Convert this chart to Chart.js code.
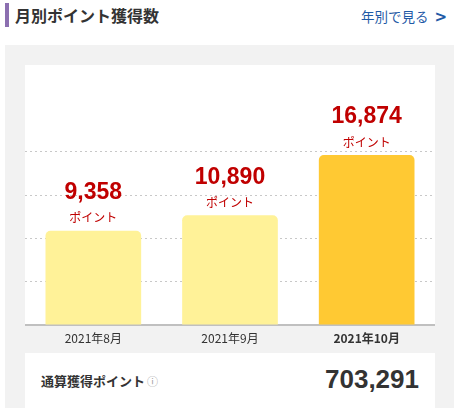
<!DOCTYPE html>
<html><head><meta charset="utf-8">
<script src="https://cdn.jsdelivr.net/npm/chart.js@4"></script>
<style>
body{margin:0;width:459px;height:408px;background:#fff;font-family:"Noto Sans CJK JP","Noto Sans",sans-serif;position:relative;overflow:hidden}
.bar{position:absolute;left:5px;top:3px;width:4px;height:24px;background:#8c6fb0}
.title{position:absolute;left:15px;top:3px;font-size:16px;font-weight:bold;color:#333;line-height:24px}
.link{position:absolute;right:12px;top:6px;font-size:13.5px;color:#1f5aa6;line-height:20px}
.link b{font-size:15px;margin-left:6px;font-family:"DejaVu Sans",sans-serif}
.panel{position:absolute;left:5px;top:45px;width:449px;height:363px;background:#f2f2f2}
.white{position:absolute;left:25px;top:65px;width:410px;height:260px;background:#fff}
.card{position:absolute;left:25px;top:353px;width:410px;height:55px;background:#fff}
.card .l{position:absolute;left:16px;top:18px;font-size:13px;font-weight:bold;color:#333}
.card .l span{font-weight:normal;color:#999;font-size:11px;margin-left:2px}
.card .r{position:absolute;right:16px;top:11px;font-size:26px;font-weight:bold;color:#333;font-family:"Liberation Sans",Arial,sans-serif}
#wrap{position:absolute;left:25px;top:65px;width:410px;height:288px}
</style></head><body>
<div class="bar"></div><div class="title">月別ポイント獲得数</div>
<div class="link">年別で見る<b>&gt;</b></div>
<div class="panel"></div><div class="white"></div>
<div class="card"><div class="l">通算獲得ポイント<span>ⓘ</span></div><div class="r">703,291</div></div>
<div id="wrap"><canvas id="c"></canvas></div>
<script>
const categories=["2021年8月","2021年9月","2021年10月"];
const points=[9358,10890,16874];
const barColors=["#fff298","#fff298","#ffc933"];
const unitLabel="ポイント";
const maxV=Math.max(...points);
const labelsPlugin={id:'lbl',afterDatasetsDraw(chart){
 const ctx=chart.ctx;const meta=chart.getDatasetMeta(0);
 meta.data.forEach((b,i)=>{
  ctx.save();ctx.textAlign='center';ctx.fillStyle='#c00000';
  ctx.font='bold 23px "Liberation Sans",Arial,sans-serif';ctx.textBaseline='middle';
  ctx.fillText(points[i].toLocaleString('en-US'),b.x,b.y-38);
  ctx.font='12px "Noto Sans CJK JP",sans-serif';
  ctx.fillText(unitLabel,b.x,b.y-13);ctx.restore();});
}};
new Chart(document.getElementById('c'),{type:'bar',
 data:{labels:categories,datasets:[{data:points,backgroundColor:barColors,borderRadius:{topLeft:5,topRight:5},borderSkipped:'bottom',barPercentage:0.7,categoryPercentage:1}]},
 options:{responsive:true,maintainAspectRatio:false,animation:false,
  plugins:{legend:{display:false},tooltip:{enabled:false}},
  layout:{padding:0},
  scales:{
   x:{grid:{display:false,drawTicks:false},border:{display:true,color:'#c0c0c0',width:2},
      ticks:{color:'#333',padding:6,font:c=>({size:12,family:'"Noto Sans CJK JP",sans-serif',weight:c.index===2?'bold':'normal'})},
      afterFit:s=>{s.height=28;}},
   y:{min:0,max:maxV*260/170,ticks:{display:false,stepSize:maxV/4},
      grid:{drawTicks:false,color:c=>(c.tick.value>1&&c.tick.value<maxV*1.1)?'#c8c8c8':'rgba(0,0,0,0)'},
      border:{display:false,dash:[2,3]},afterFit:s=>{s.width=0;}}
  }},
 plugins:[labelsPlugin]});
</script></body></html>
